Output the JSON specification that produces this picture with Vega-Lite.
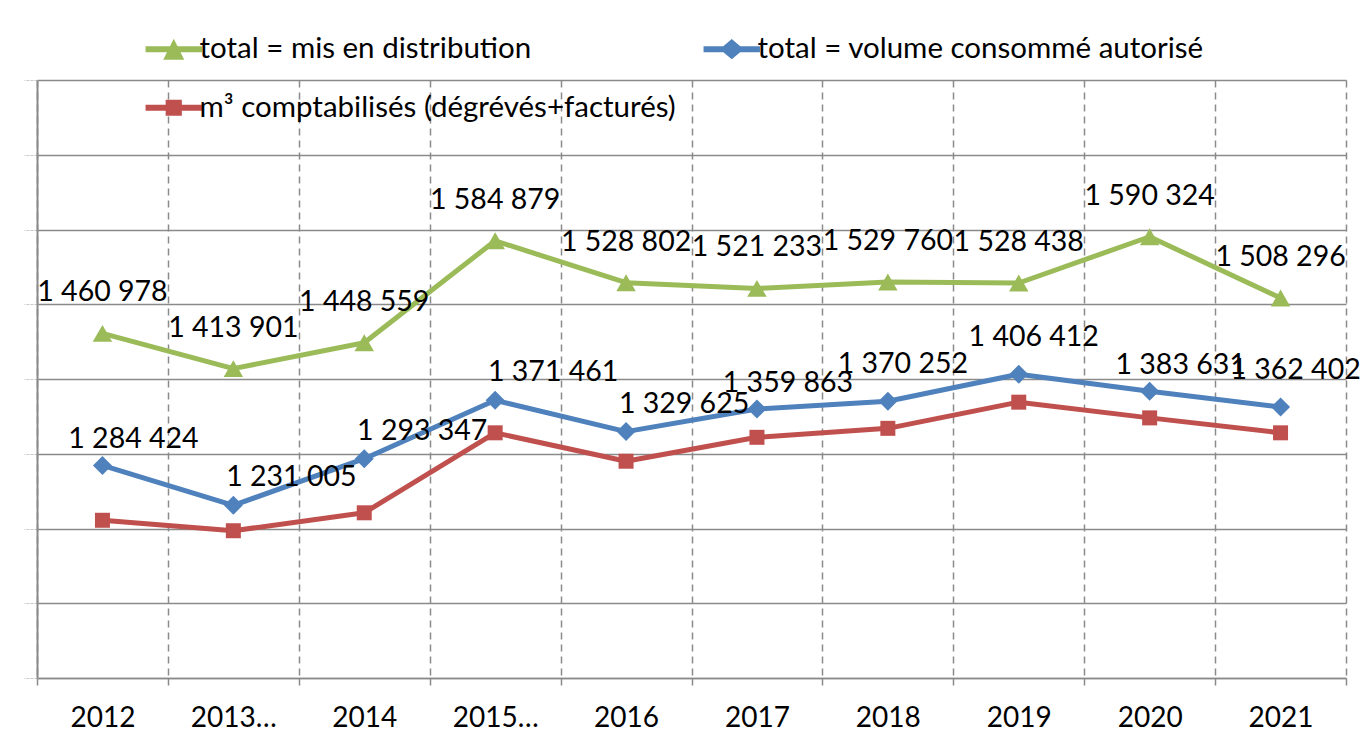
{
  "$schema": "https://vega.github.io/schema/vega-lite/v6.json",
  "width": 1309,
  "height": 598,
  "autosize": {"type": "none"},
  "padding": {"left": 37, "top": 80, "right": 25, "bottom": 74},
  "background": "white",
  "config": {
    "locale": {"number": {"decimal": ",", "thousands": " ", "grouping": [3], "currency": ["", " €"]}},
    "font": "Lato",
    "view": {"stroke": null}
  },
  "data": {
    "values": [
      {"year": "2012", "series": "total = mis en distribution", "value": 1460978},
      {"year": "2013…", "series": "total = mis en distribution", "value": 1413901},
      {"year": "2014", "series": "total = mis en distribution", "value": 1448559},
      {"year": "2015…", "series": "total = mis en distribution", "value": 1584879},
      {"year": "2016", "series": "total = mis en distribution", "value": 1528802},
      {"year": "2017", "series": "total = mis en distribution", "value": 1521233},
      {"year": "2018", "series": "total = mis en distribution", "value": 1529760},
      {"year": "2019", "series": "total = mis en distribution", "value": 1528438},
      {"year": "2020", "series": "total = mis en distribution", "value": 1590324},
      {"year": "2021", "series": "total = mis en distribution", "value": 1508296},
      {"year": "2012", "series": "total = volume consommé autorisé", "value": 1284424},
      {"year": "2013…", "series": "total = volume consommé autorisé", "value": 1231005},
      {"year": "2014", "series": "total = volume consommé autorisé", "value": 1293347},
      {"year": "2015…", "series": "total = volume consommé autorisé", "value": 1371461},
      {"year": "2016", "series": "total = volume consommé autorisé", "value": 1329625},
      {"year": "2017", "series": "total = volume consommé autorisé", "value": 1359863},
      {"year": "2018", "series": "total = volume consommé autorisé", "value": 1370252},
      {"year": "2019", "series": "total = volume consommé autorisé", "value": 1406412},
      {"year": "2020", "series": "total = volume consommé autorisé", "value": 1383631},
      {"year": "2021", "series": "total = volume consommé autorisé", "value": 1362402},
      {"year": "2012", "series": "m³ comptabilisés (dégrévés+facturés)", "value": 1211000},
      {"year": "2013…", "series": "m³ comptabilisés (dégrévés+facturés)", "value": 1197000},
      {"year": "2014", "series": "m³ comptabilisés (dégrévés+facturés)", "value": 1221000},
      {"year": "2015…", "series": "m³ comptabilisés (dégrévés+facturés)", "value": 1328000},
      {"year": "2016", "series": "m³ comptabilisés (dégrévés+facturés)", "value": 1290000},
      {"year": "2017", "series": "m³ comptabilisés (dégrévés+facturés)", "value": 1322000},
      {"year": "2018", "series": "m³ comptabilisés (dégrévés+facturés)", "value": 1334000},
      {"year": "2019", "series": "m³ comptabilisés (dégrévés+facturés)", "value": 1369000},
      {"year": "2020", "series": "m³ comptabilisés (dégrévés+facturés)", "value": 1348000},
      {"year": "2021", "series": "m³ comptabilisés (dégrévés+facturés)", "value": 1328000}
    ]
  },
  "encoding": {
    "x": {
      "field": "year", "type": "ordinal", "sort": null,
      "scale": {"type": "band", "paddingInner": 0, "paddingOuter": 0},
      "axis": {
        "title": null, "labelAngle": 0, "tickBand": "extent",
        "grid": true, "gridDash": [7, 5], "gridColor": "#8a8a8a", "gridWidth": 1.5,
        "ticks": true, "tickDash": [7, 5], "tickColor": "#8a8a8a", "tickWidth": 1.5, "tickSize": 9,
        "domainColor": "#8a8a8a", "domainWidth": 1.5,
        "labelFont": "Lato", "labelFontSize": 28, "labelColor": "black", "labelPadding": 17
      }
    },
    "y": {
      "field": "value", "type": "quantitative",
      "scale": {"domain": [1000000, 1800000], "nice": false, "zero": false},
      "axis": {
        "title": null, "labels": false,
        "values": [1000000, 1100000, 1200000, 1300000, 1400000, 1500000, 1600000, 1700000, 1800000],
        "grid": true, "gridColor": "#8a8a8a", "gridWidth": 1.5,
        "tickColor": "#c8c8c8", "tickSize": 13, "tickWidth": 1, "tickDash": [3, 1],
        "domainColor": "#8a8a8a", "domainWidth": 2
      }
    },
    "color": {
      "field": "series", "type": "nominal",
      "scale": {
        "domain": ["total = mis en distribution", "total = volume consommé autorisé", "m³ comptabilisés (dégrévés+facturés)"],
        "range": ["#9bbb59", "#4f81bd", "#c0504d"]
      },
      "legend": {
        "title": null, "orient": "none", "legendX": 122, "legendY": -46,
        "direction": "horizontal",
        "columns": 2, "gridAlign": "each", "columnPadding": 27, "rowPadding": 28,
        "symbolSize": 144, "symbolStrokeWidth": 0, "labelOffset": 11,
        "labelFont": "Lato", "labelFontSize": 29.5, "labelColor": "black", "labelLimit": 1000,
        "encode": {
          "symbols": {
            "update": {
              "shape": {"signal": "datum.index === 0 ? 'M-4.7,-0.5H4.7V0.5H-4.7Z M0,-1.75L1.75,1.75H-1.75Z' : datum.index === 1 ? 'M-4.7,-0.5H4.7V0.5H-4.7Z M0,-1.7L2,0L0,1.7L-2,0Z' : 'M-4.7,-0.5H4.7V0.5H-4.7Z M-1.35,-1.35H1.35V1.35H-1.35Z'"},
              "fill": {"scale": "color", "field": "value"},
              "fillOpacity": {"value": 1},
              "strokeWidth": {"value": 0},
              "opacity": {"value": 1}
            }
          }
        }
      }
    }
  },
  "layer": [
    {"mark": {"type": "line", "strokeWidth": 5, "strokeJoin": "round"}},
    {
      "transform": [{"filter": "datum.series === 'total = mis en distribution'"}],
      "mark": {"type": "point", "shape": "triangle-up", "size": 380, "filled": true, "opacity": 1}
    },
    {
      "transform": [{"filter": "datum.series === 'total = volume consommé autorisé'"}],
      "mark": {"type": "point", "shape": "diamond", "size": 361, "filled": true, "opacity": 1}
    },
    {
      "transform": [{"filter": "datum.series === 'm³ comptabilisés (dégrévés+facturés)'"}],
      "mark": {"type": "point", "shape": "square", "size": 225, "filled": true, "opacity": 1}
    },
    {
      "transform": [{"filter": "datum.series === 'total = mis en distribution'"}],
      "mark": {"type": "text", "dy": -41, "align": "center", "baseline": "middle", "font": "Lato", "fontSize": 28.5},
      "encoding": {"text": {"field": "value", "type": "quantitative", "format": ",d"}, "color": {"value": "black"}}
    },
    {
      "transform": [{"filter": "datum.series === 'total = volume consommé autorisé'"}, {"filter": {"field": "year", "oneOf": ["2013…", "2014", "2015…", "2016"]}}],
      "mark": {"type": "text", "dx": 58, "dy": -28, "align": "center", "baseline": "middle", "font": "Lato", "fontSize": 28.5},
      "encoding": {"text": {"field": "value", "type": "quantitative", "format": ",d"}, "color": {"value": "black"}}
    },
    {
      "transform": [{"filter": "datum.series === 'total = volume consommé autorisé'"}, {"filter": {"field": "year", "oneOf": ["2012", "2017", "2020"]}}],
      "mark": {"type": "text", "dx": 31, "dy": -26, "align": "center", "baseline": "middle", "font": "Lato", "fontSize": 28.5},
      "encoding": {"text": {"field": "value", "type": "quantitative", "format": ",d"}, "color": {"value": "black"}}
    },
    {
      "transform": [{"filter": "datum.series === 'total = volume consommé autorisé'"}, {"filter": {"field": "year", "oneOf": ["2018", "2019", "2021"]}}],
      "mark": {"type": "text", "dx": 15, "dy": -37, "align": "center", "baseline": "middle", "font": "Lato", "fontSize": 28.5},
      "encoding": {"text": {"field": "value", "type": "quantitative", "format": ",d"}, "color": {"value": "black"}}
    }
  ]
}
